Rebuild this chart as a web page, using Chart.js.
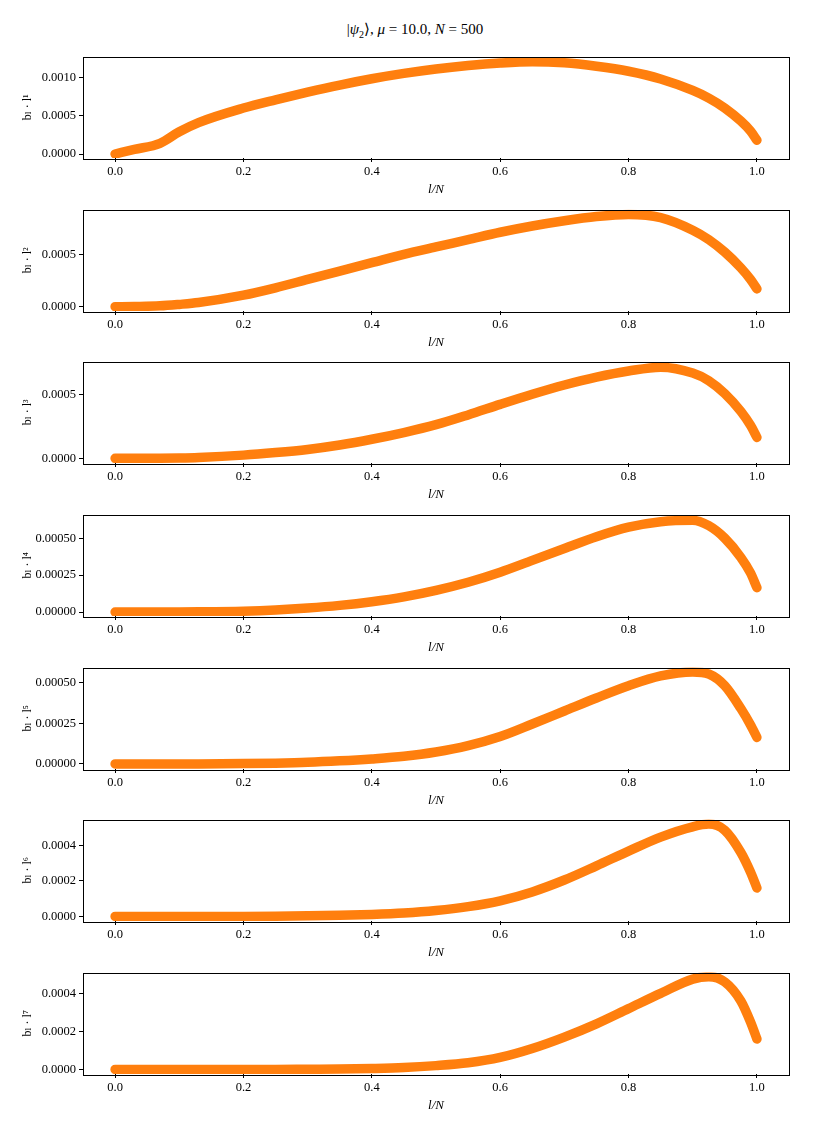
<!DOCTYPE html>
<html>
<head>
<meta charset="utf-8">
<script src="https://cdn.jsdelivr.net/npm/chart.js@4/dist/chart.umd.min.js"></script>
<style>
  body { margin: 0; background: #fff; }
  #page { position: relative; width: 830px; height: 1130px; overflow: hidden; }
  #title { position: absolute; top: 20px; left: 0; width: 830px; text-align: center;
           font: 15px "Liberation Serif", serif; color: #000; }
  canvas { position: absolute; left: 0; }
</style>
</head>
<body>
<div id="page">
  <div id="title">|<i>ψ</i><sub style="font-size:10px">2</sub>⟩, <i>μ</i> = 10.0, <i>N</i> = 500</div>
</div>
<script>
// l/N positions
const lN = [0, 0.03, 0.07, 0.1, 0.13, 0.2, 0.25, 0.3, 0.35, 0.4, 0.45, 0.5, 0.55, 0.6,
            0.65, 0.7, 0.75, 0.8, 0.85, 0.9, 0.925, 0.95, 0.975, 0.99, 1.0];

// b_l * l^k for k = 1..7
const b1 = [0, 0.00006, 0.00014, 0.00029, 0.00041, 0.000600, 0.000708, 0.000808, 0.000900, 0.000982,
            0.001052, 0.00111, 0.001155, 0.001188, 0.001205, 0.00119, 0.001145, 0.00108, 0.00098,
            0.00083, 0.00073, 0.0006, 0.00043, 0.0003, 0.00018];
const b2 = [0, 0.000002, 0.000008, 0.000022, 0.00004, 0.00011, 0.00018, 0.00026, 0.00034, 0.00042,
            0.00050, 0.00057, 0.00064, 0.00071, 0.00077, 0.00082, 0.00086, 0.00088, 0.00085,
            0.00073, 0.00064, 0.00052, 0.00037, 0.00026, 0.00017];
const b3 = [0, 0, 0.000001, 0.000003, 0.000007, 0.000025, 0.000045, 0.00007, 0.000105, 0.00015,
            0.000203, 0.000265, 0.000342, 0.000425, 0.000505, 0.000578, 0.00064, 0.000688, 0.000718,
            0.000672, 0.000612, 0.00051, 0.00037, 0.00026, 0.000165];
const b4 = [0, 0, 0, 0, 0.000001, 0.000006, 0.000014, 0.000027, 0.000045, 0.00007,
            0.000103, 0.000147, 0.000202, 0.00027, 0.00035, 0.00043, 0.00051, 0.000575, 0.000612,
            0.000622, 0.000585, 0.0005, 0.00037, 0.000265, 0.000165];
const b5 = [0, 0, 0, 0, 0, 0.000002, 0.000005, 0.00001, 0.000019, 0.000031,
            0.000047, 0.000073, 0.000112, 0.000168, 0.000245, 0.000325, 0.000405, 0.00048, 0.00054,
            0.000565, 0.000552, 0.00048, 0.00034, 0.00024, 0.000163];
const b6 = [0, 0, 0, 0, 0, 0, 0.000001, 0.000003, 0.000006, 0.000011,
            0.000019, 0.000033, 0.000055, 0.000088, 0.000138, 0.000205, 0.000285, 0.000368, 0.000447,
            0.000505, 0.00052, 0.000485, 0.00036, 0.00025, 0.00016];
const b7 = [0, 0, 0, 0, 0, 0, 0, 0.000001, 0.000002, 0.000005,
            0.00001, 0.00002, 0.000035, 0.000063, 0.00011, 0.00017, 0.00024, 0.00032, 0.0004,
            0.000475, 0.000488, 0.00046, 0.00036, 0.00025, 0.00016];

const series = [b1, b2, b3, b4, b5, b6, b7];
const powers = ["¹", "²", "³", "⁴", "⁵", "⁶", "⁷"];

const xTicks = [0, 0.2, 0.4, 0.6, 0.8, 1.0];
const yTicks = [
  [0, 0.0005, 0.0010],
  [0, 0.0005],
  [0, 0.0005],
  [0, 0.00025, 0.0005],
  [0, 0.00025, 0.0005],
  [0, 0.0002, 0.0004],
  [0, 0.0002, 0.0004],
];
const yDigits = [4, 4, 4, 5, 5, 4, 4];
const yLims = [
  [-0.000052, 0.001273],
  [-0.000041, 0.000927],
  [-0.000037, 0.000763],
  [-0.000027, 0.000661],
  [-0.000031, 0.000592],
  [-0.000026, 0.000546],
  [-0.000024, 0.000510],
];

const panelTops = [56, 209, 361, 514, 667, 819, 972];
const panelHeight = 102;
const padTop = 10;
const xAxisHeight = 48;

Chart.defaults.font.family = '"Liberation Serif", "DejaVu Serif", serif';
Chart.defaults.font.size = 12.5;
Chart.defaults.color = "#000";

const framePlugin = {
  id: "frame",
  afterDraw(chart) {
    const { ctx, chartArea: a } = chart;
    ctx.save();
    ctx.strokeStyle = "#000";
    ctx.lineWidth = 1;
    ctx.strokeRect(Math.round(a.left) + 0.5, Math.round(a.top) + 0.5,
                   Math.round(a.right - a.left), Math.round(a.bottom - a.top));
    ctx.restore();
  }
};

const page = document.getElementById("page");

series.forEach((vals, i) => {
  const canvas = document.createElement("canvas");
  canvas.width = 830;
  canvas.height = padTop + panelHeight + xAxisHeight;
  canvas.style.top = (panelTops[i] - padTop) + "px";
  page.append(canvas);

  const points = lN.map((x, j) => ({ x, y: vals[j] }));

  new Chart(canvas, {
    type: "line",
    data: {
      datasets: [{
        data: points,
        borderColor: "#ff7f0e",
        borderWidth: 9.5,
        borderCapStyle: "round",
        borderJoinStyle: "round",
        cubicInterpolationMode: "monotone",
        pointRadius: 0,
      }]
    },
    options: {
      responsive: false,
      animation: false,
      devicePixelRatio: 1,
      layout: { autoPadding: false, padding: { top: padTop, left: 13, right: 41, bottom: 0 } },
      plugins: { legend: { display: false }, tooltip: { enabled: false } },
      scales: {
        x: {
          type: "linear",
          min: -0.05,
          max: 1.05,
          afterBuildTicks: axis => { axis.ticks = xTicks.map(v => ({ value: v })); },
          afterFit: axis => { axis.height = xAxisHeight; },
          ticks: { callback: v => v.toFixed(1), maxRotation: 0, padding: 2 },
          grid: { display: true, drawOnChartArea: false, drawTicks: true, tickLength: 4, color: "#000" },
          border: { display: false },
          title: { display: true, text: "l/N", font: { style: "italic", size: 13 }, padding: { top: 0, bottom: 9 } },
        },
        y: {
          min: yLims[i][0],
          max: yLims[i][1],
          afterBuildTicks: axis => { axis.ticks = yTicks[i].map(v => ({ value: v })); },
          afterFit: axis => { axis.width = 70; },
          ticks: { callback: v => v.toFixed(yDigits[i]), padding: 3 },
          grid: { display: true, drawOnChartArea: false, drawTicks: true, tickLength: 4, color: "#000" },
          border: { display: false },
          title: { display: true, text: "bₗ · l" + powers[i], font: { size: 12 }, padding: { top: 8, bottom: 0 } },
        }
      }
    },
    plugins: [framePlugin]
  });
});
</script>
</body>
</html>
